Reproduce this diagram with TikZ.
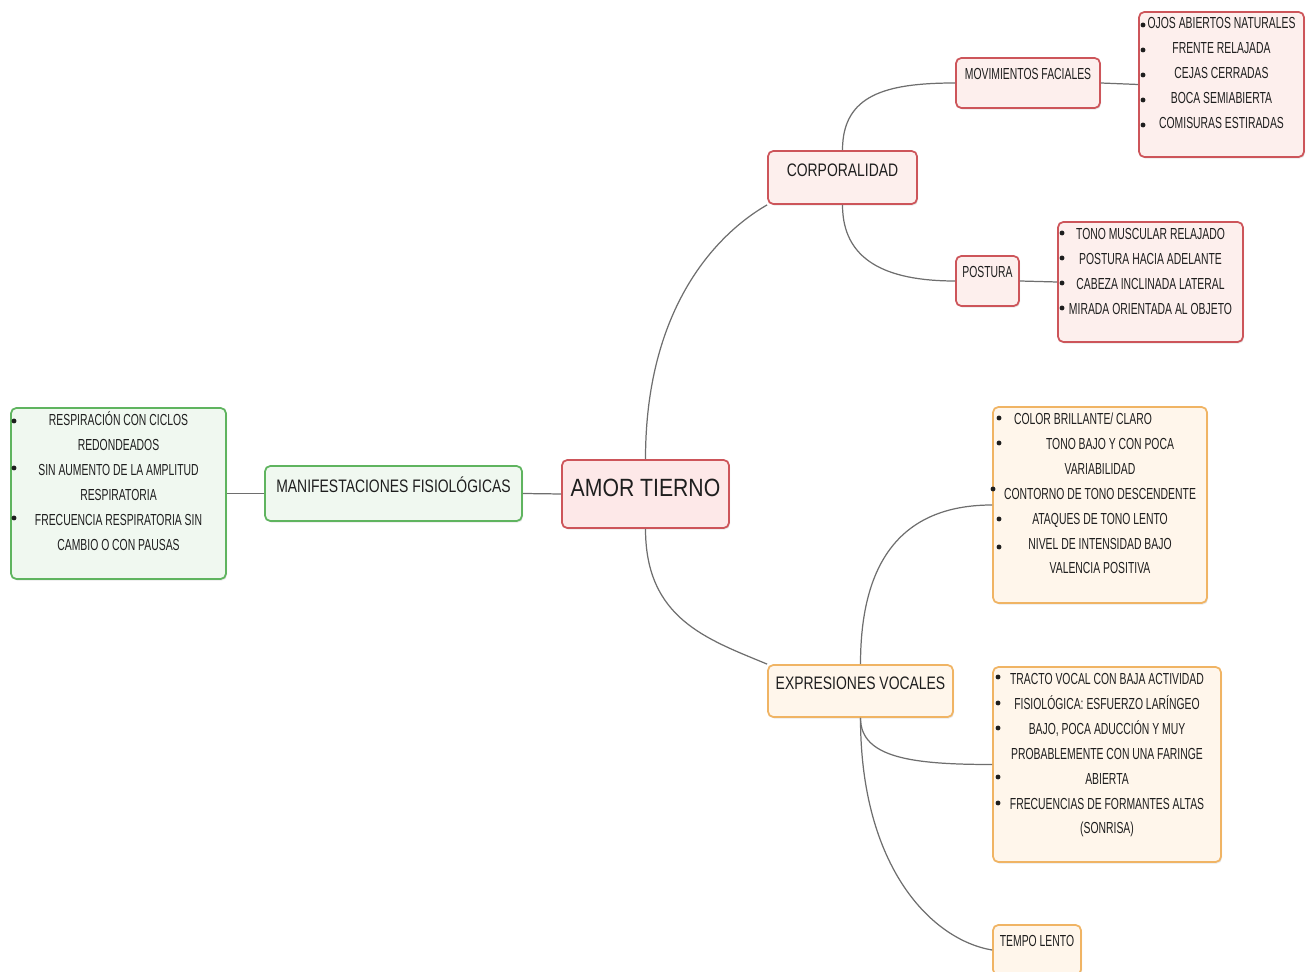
\documentclass[tikz,border=0pt]{standalone}
\usepackage{fontspec}
\setmainfont{Liberation Sans}
\newfontfamily\titlenarrow[FakeStretch=0.85]{Liberation Sans}
\newfontfamily\labelnarrow[FakeStretch=0.77]{Liberation Sans}
\newfontfamily\smallnarrow[FakeStretch=0.65]{Liberation Sans}
\newcommand{\titletype}{\titlenarrow\fontsize{14.2}{17}\selectfont}
\newcommand{\labeltype}{\labelnarrow\fontsize{10.3}{12}\selectfont}
\newcommand{\smalltype}{\smallnarrow\fontsize{9.1}{14.2}\selectfont}
\usepackage{tikz}
\usetikzlibrary{shadows}

\definecolor{ink}{RGB}{30,30,30}
\definecolor{redline}{RGB}{205,85,90}
\definecolor{redfill}{RGB}{253,232,232}
\definecolor{palered}{RGB}{253,239,237}
\definecolor{greenline}{RGB}{95,180,95}
\definecolor{greenfill}{RGB}{240,248,240}
\definecolor{orangeline}{RGB}{240,180,100}
\definecolor{orangefill}{RGB}{255,246,235}
\definecolor{linkgray}{RGB}{110,110,110}

\tikzstyle{card} = [rectangle, rounded corners=3pt, line width=1pt, text=ink, drop shadow={opacity=0.18, shadow xshift=0.6pt, shadow yshift=-0.9pt}]
\tikzstyle{redbox} = [card, draw=redline, fill=palered]
\tikzstyle{greenbox} = [card, draw=greenline, fill=greenfill]
\tikzstyle{orangebox} = [card, draw=orangeline, fill=orangefill]
\tikzstyle{titletext} = [font=\titletype, text height=10.2pt, text depth=6.8pt]
\tikzstyle{bigtext} = [font=\labeltype, text height=7.4pt, text depth=9pt]
\tikzstyle{smalltext} = [font=\smalltype, text height=6.5pt, text depth=10.2pt]
\tikzstyle{listtext} = [align=center, inner sep=0pt, text=ink, font=\smalltype, anchor=north]
\tikzstyle{link} = [draw=linkgray, line width=0.7pt]

\begin{document}
\begin{tikzpicture}[x=0.02cm, y=-0.02cm]
\useasboundingbox (0,0) rectangle (1312,972);

% Centre
\node (amor) [redbox, fill=redfill, titletext, minimum width=3.34cm, minimum height=1.36cm] at (645.5,494) {AMOR TIERNO};

% Left branch - manifestaciones fisiologicas
\node (manif) [greenbox, bigtext, minimum width=5.14cm, minimum height=1.1cm] at (393.5,493.5) {MANIFESTACIONES FISIOLÓGICAS};
\node (resp) [greenbox, minimum width=4.3cm, minimum height=3.42cm] at (118.5,493.5) {};
\node (resptxt) [listtext] at ([yshift=-0.04cm]resp.north) {\rule{0pt}{9pt}RESPIRACIÓN CON CICLOS\\REDONDEADOS\\SIN AUMENTO DE LA AMPLITUD\\RESPIRATORIA\\FRECUENCIA RESPIRATORIA SIN\\CAMBIO O CON PAUSAS};

% Upper branch - corporalidad
\node (corpo) [redbox, bigtext, minimum width=2.98cm, minimum height=1.06cm] at (842.5,177.5) {CORPORALIDAD};
\node (movim) [redbox, smalltext, minimum width=2.88cm, minimum height=1cm] at (1028,83) {MOVIMIENTOS FACIALES};
\node (facial) [redbox, minimum width=3.3cm, minimum height=2.9cm] at (1221.5,84.5) {};
\node (facialtxt) [listtext] at ([yshift=-0.02cm]facial.north) {\rule{0pt}{9pt}OJOS ABIERTOS NATURALES\\FRENTE RELAJADA\\CEJAS CERRADAS\\BOCA SEMIABIERTA\\COMISURAS ESTIRADAS};
\node (postura) [redbox, smalltext, minimum width=1.26cm, minimum height=1cm] at (987.5,281) {POSTURA};
\node (poslist) [redbox, minimum width=3.7cm, minimum height=2.4cm] at (1150.5,282) {};
\node (poslisttxt) [listtext] at ([yshift=-0.04cm]poslist.north) {\rule{0pt}{9pt}TONO MUSCULAR RELAJADO\\POSTURA HACIA ADELANTE\\CABEZA INCLINADA LATERAL\\MIRADA ORIENTADA AL OBJETO};

% Lower branch - expresiones vocales
\node (expr) [orangebox, bigtext, minimum width=3.7cm, minimum height=1.04cm] at (860.5,691) {EXPRESIONES VOCALES};
\node (voc1) [orangebox, minimum width=4.28cm, minimum height=3.92cm] at (1100,505) {};
\node (voc1txt) [listtext] at ([yshift=-0.04cm]voc1.north) {\rule{0pt}{9pt}COLOR BRILLANTE/ CLARO\hspace*{0.68cm}\\\hspace*{0.4cm}TONO BAJO Y CON POCA\\VARIABILIDAD\\CONTORNO DE TONO DESCENDENTE\\ATAQUES DE TONO LENTO\\NIVEL DE INTENSIDAD BAJO\\VALENCIA POSITIVA};
\node (voc2) [orangebox, minimum width=4.56cm, minimum height=3.9cm] at (1107,764.5) {};
\node (voc2txt) [listtext] at ([yshift=-0.04cm]voc2.north) {\rule{0pt}{9pt}TRACTO VOCAL CON BAJA ACTIVIDAD\\FISIOLÓGICA: ESFUERZO LARÍNGEO\\BAJO, POCA ADUCCIÓN Y MUY\\PROBABLEMENTE CON UNA FARINGE\\ABIERTA\\FRECUENCIAS DE FORMANTES ALTAS\\(SONRISA)};
\node (tempo) [orangebox, smalltext, minimum width=1.76cm, minimum height=1cm] at (1037,950) {TEMPO LENTO};

% Bullets
\foreach \y in {421,468,518} \fill[ink] (14,\y) circle (1.4pt);
\foreach \y in {25,50,75,100,125} \fill[ink] (1143,\y) circle (1.4pt);
\foreach \y in {233,258,283,308} \fill[ink] (1062,\y) circle (1.4pt);
\foreach \x/\y in {999/418,999/443,993/489,999/519,999/547} \fill[ink] (\x,\y) circle (1.4pt);
\foreach \y in {677,703,728,777,803} \fill[ink] (998,\y) circle (1.4pt);

% Connectors
\draw [link] (amor.west) -- (manif.east);
\draw [link] (manif.west) -- (resp.east);
\draw [link] (amor.north) .. controls +(0,-150) and +(-52,30) .. (corpo.south west);
\draw [link] (amor.south) .. controls +(0,90) and +(-60,-25) .. (expr.north west);
\draw [link] (corpo.north) .. controls +(0,-55) and +(-70,0) .. (movim.west);
\draw [link] (corpo.south) .. controls +(0,55) and +(-70,0) .. (postura.west);
\draw [link] (movim.east) -- (facial.west);
\draw [link] (postura.east) -- (poslist.west);
\draw [link] (expr.north) .. controls +(0,-115) and +(-80,0) .. (voc1.west);
\draw [link] (expr.south) .. controls +(0,40) and +(-80,0) .. (voc2.west);
\draw [link] (expr.south) .. controls +(0,150) and +(-60,-10) .. (tempo.west);

\end{tikzpicture}
\end{document}
